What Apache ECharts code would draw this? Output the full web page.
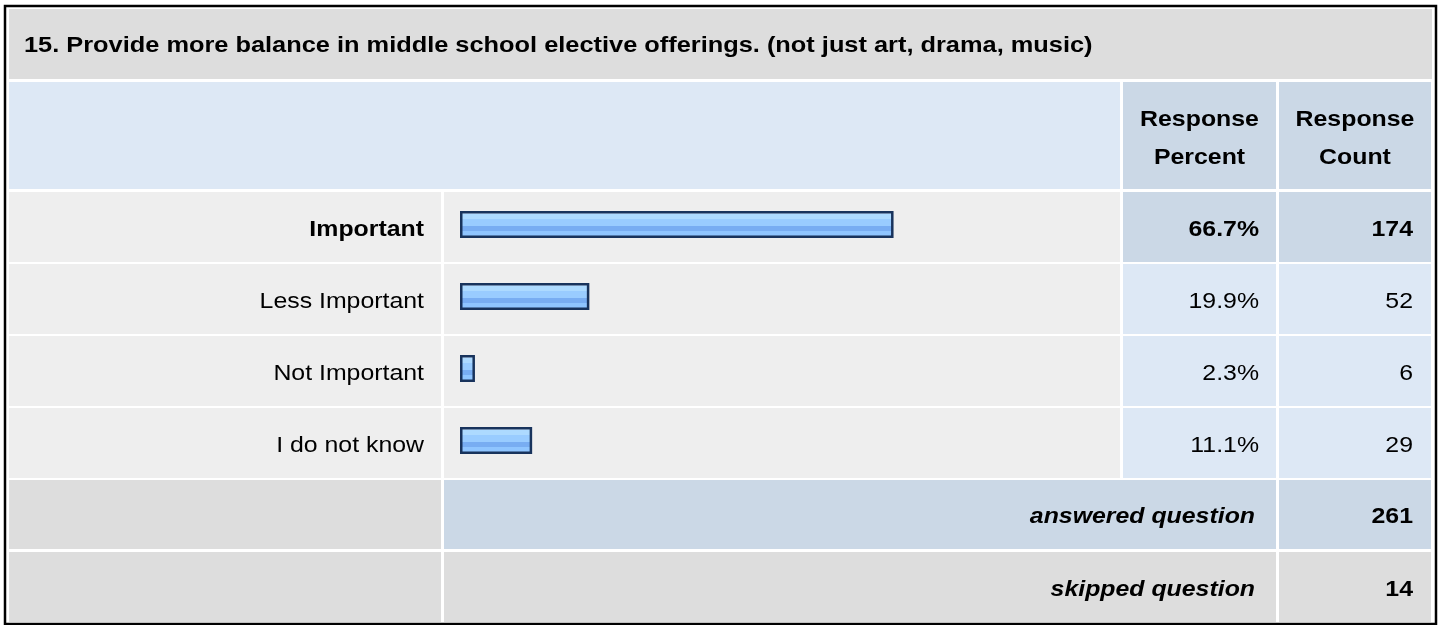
<!DOCTYPE html>
<html>
<head>
<meta charset="utf-8">
<script src="https://cdn.jsdelivr.net/npm/echarts@6/dist/echarts.min.js"></script>
<style>
    html, body { margin: 0; padding: 0; background: #fff; }
    #container { width: 1440px; height: 625px; }
</style>
</head>
<body>
<div id="container"></div>
<script>
    let titleText = '15. Provide more balance in middle school elective offerings. (not just art, drama, music)';
    let categories = ['Important', 'Less Important', 'Not Important', 'I do not know'];
    let percentValues = [66.7, 19.9, 2.3, 11.1];
    let countValues = [174, 52, 6, 29];
    let headerLabels = ['Response\nPercent', 'Response\nCount'];
    let summaryLabels = ['answered question', 'skipped question'];
    let summaryCounts = [261, 14];

    // 表格布局
    let colLabel = [9, 441];
    let colBar = [444, 1120];
    let colPct = [1123, 1276];
    let colCnt = [1279, 1431];
    let rowTop = 192;
    let rowStep = 72;
    let rowH = 70;
    let stretch = 1.13;
    let fontFamily = '"Liberation Sans", Arial, sans-serif';

    function cell(x1, x2, y, h, fill) {
        return {
            type: 'rect', silent: true, z: 0,
            shape: { x: x1, y: y, width: x2 - x1, height: h },
            style: { fill: fill }
        };
    }

    function label(x, y, str, align, weight, italic, sx) {
        return {
            type: 'text', silent: true, z: 10,
            x: x, y: y, scaleX: sx || stretch,
            style: {
                text: str, align: align, verticalAlign: 'middle',
                fill: '#000', lineHeight: 38,
                font: (italic ? 'italic ' : '') + (weight || 'normal') + ' 22px ' + fontFamily
            }
        };
    }

    function buildGraphic() {
        let g = [];
        // 外框
        g.push({
            type: 'rect', silent: true, z: 20,
            shape: { x: 5, y: 6, width: 1431, height: 618 },
            style: { fill: 'none', stroke: '#000', lineWidth: 2.5 }
        });
        // 标题
        g.push(cell(9, 1432, 9, 70, '#dddddd'));
        g.push(label(24, 46, titleText, 'left', 'bold', false, 1.153));
        // 表头
        g.push(cell(9, 1120, 82, 107, '#dde8f5'));
        g.push(cell(colPct[0], colPct[1], 82, 107, '#cbd8e6'));
        g.push(cell(colCnt[0], colCnt[1], 82, 107, '#cbd8e6'));
        g.push(label((colPct[0] + colPct[1]) / 2, 139, headerLabels[0], 'center', 'bold'));
        g.push(label((colCnt[0] + colCnt[1]) / 2, 139, headerLabels[1], 'center', 'bold'));
        // 数据行
        categories.forEach(function(name, i) {
            let y = rowTop + i * rowStep;
            let mid = y + rowH / 2 + 2.5;
            let first = i === 0;
            let side = first ? '#cbd8e6' : '#dde8f5';
            let weight = first ? 'bold' : 'normal';
            g.push(cell(colLabel[0], colLabel[1], y, rowH, '#eeeeee'));
            g.push(cell(colBar[0], colBar[1], y, rowH, '#eeeeee'));
            g.push(cell(colPct[0], colPct[1], y, rowH, side));
            g.push(cell(colCnt[0], colCnt[1], y, rowH, side));
            g.push(label(424, mid, name, 'right', weight));
            g.push(label(1259, mid, percentValues[i].toFixed(1) + '%', 'right', weight));
            g.push(label(1413, mid, String(countValues[i]), 'right', weight));
        });
        // 合计行
        let y1 = rowTop + categories.length * rowStep;
        g.push(cell(colLabel[0], colLabel[1], y1, 69, '#dddddd'));
        g.push(cell(colBar[0], colPct[1], y1, 69, '#cbd8e6'));
        g.push(cell(colCnt[0], colCnt[1], y1, 69, '#cbd8e6'));
        g.push(label(1255, y1 + 37, summaryLabels[0], 'right', 'bold', true));
        g.push(label(1413, y1 + 37, String(summaryCounts[0]), 'right', 'bold'));
        let y2 = y1 + rowStep;
        g.push(cell(colLabel[0], colLabel[1], y2, 70, '#dddddd'));
        g.push(cell(colBar[0], colPct[1], y2, 70, '#dddddd'));
        g.push(cell(colCnt[0], colCnt[1], y2, 70, '#dddddd'));
        g.push(label(1255, y2 + 38, summaryLabels[1], 'right', 'bold', true));
        g.push(label(1413, y2 + 38, String(summaryCounts[1]), 'right', 'bold'));
        return g;
    }

    let myChart = echarts.init(document.getElementById('container'), null, { renderer: 'canvas' });

    let barFill = new echarts.graphic.LinearGradient(0, 0, 0, 1, [
        { offset: 0, color: '#c9e4ff' },
        { offset: 0.12, color: '#c9e4ff' },
        { offset: 0.12, color: '#addaff' },
        { offset: 0.28, color: '#addaff' },
        { offset: 0.28, color: '#99ccff' },
        { offset: 0.55, color: '#99ccff' },
        { offset: 0.55, color: '#78adf2' },
        { offset: 0.74, color: '#78adf2' },
        { offset: 0.74, color: '#8fc5ff' },
        { offset: 1, color: '#8fc5ff' }
    ]);

    let option = {
        animation: false,
        backgroundColor: '#ffffff',
        grid: { left: 460, width: 650, top: 188.5, height: 288 },
        xAxis: { type: 'value', min: 0, max: 100, show: false },
        yAxis: { type: 'category', data: categories, inverse: true, show: false },
        graphic: buildGraphic(),
        series: [{
            type: 'bar',
            data: percentValues,
            barWidth: 27,
            z: 5,
            silent: true,
            itemStyle: {
                color: barFill,
                borderColor: '#18335c',
                borderWidth: 2.5
            }
        }]
    };
    myChart.setOption(option);
</script>
</body>
</html>
